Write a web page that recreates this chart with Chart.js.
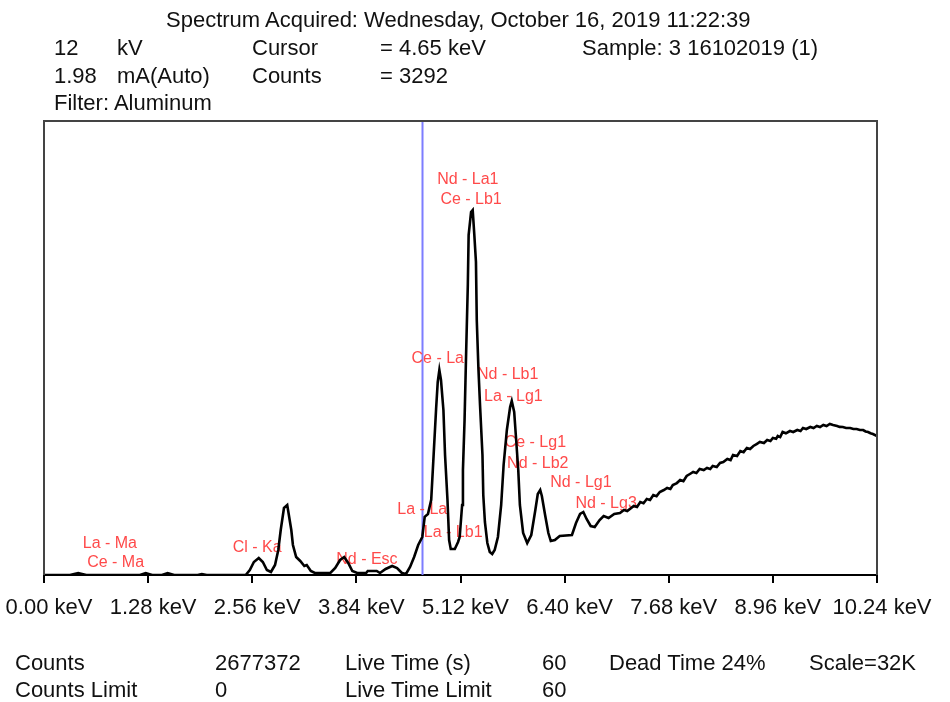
<!DOCTYPE html>
<html>
<head>
<meta charset="utf-8">
<script src="https://cdn.jsdelivr.net/npm/chart.js@4/dist/chart.umd.min.js"></script>
<style>
  html, body { margin: 0; padding: 0; background: #fff; }
  #wrap { position: relative; width: 950px; height: 702px; overflow: hidden; }
  #chart { position: absolute; left: 0; top: 0; }
  .t { position: absolute; font-family: "Liberation Sans", Arial, sans-serif; font-size: 22px; line-height: 24px; color: #111; white-space: pre; }
</style>
</head>
<body>
<div id="wrap">
  <canvas id="chart" width="950" height="702"></canvas>
  <div class="t" style="left:166px; top:8px;">Spectrum Acquired: Wednesday, October 16, 2019 11:22:39</div>
  <div class="t" style="left:54px; top:36px;">12</div>
  <div class="t" style="left:117px; top:36px;">kV</div>
  <div class="t" style="left:252px; top:36px;">Cursor</div>
  <div class="t" style="left:380px; top:36px;">= 4.65 keV</div>
  <div class="t" style="left:582px; top:36px;">Sample: 3 16102019 (1)</div>
  <div class="t" style="left:54px; top:64px;">1.98</div>
  <div class="t" style="left:117px; top:64px;">mA(Auto)</div>
  <div class="t" style="left:252px; top:64px;">Counts</div>
  <div class="t" style="left:380px; top:64px;">= 3292</div>
  <div class="t" style="left:54px; top:91px;">Filter: Aluminum</div>

  <div class="t" style="left:15px; top:651px;">Counts</div>
  <div class="t" style="left:215px; top:651px;">2677372</div>
  <div class="t" style="left:345px; top:651px;">Live Time (s)</div>
  <div class="t" style="left:542px; top:651px;">60</div>
  <div class="t" style="left:609px; top:651px;">Dead Time 24%</div>
  <div class="t" style="left:809px; top:651px;">Scale=32K</div>
  <div class="t" style="left:15px; top:678px;">Counts Limit</div>
  <div class="t" style="left:215px; top:678px;">0</div>
  <div class="t" style="left:345px; top:678px;">Live Time Limit</div>
  <div class="t" style="left:542px; top:678px;">60</div>
</div>
<script>
// ---- data ----
const energyKeV = [
  0.00, 0.32, 0.42, 0.52, 1.18, 1.25, 1.33, 1.45, 1.52, 1.60, 1.89, 1.94, 2.00,
  2.48, 2.53, 2.58, 2.64, 2.69, 2.74, 2.79, 2.84, 2.88, 2.91, 2.95, 2.99, 3.01, 3.04, 3.06, 3.10,
  3.15, 3.20, 3.23, 3.28, 3.33, 3.52, 3.58, 3.64, 3.69, 3.74, 3.79, 3.85, 3.96, 3.98, 4.09, 4.13,
  4.20, 4.28, 4.34, 4.40, 4.45, 4.50, 4.55, 4.60, 4.65, 4.68, 4.72, 4.76, 4.79, 4.82, 4.84, 4.86,
  4.88, 4.91, 4.93, 4.96, 4.98, 5.00, 5.05, 5.09, 5.11, 5.14, 5.15, 5.17, 5.19, 5.21, 5.22, 5.25,
  5.27, 5.29, 5.31, 5.32, 5.34, 5.36, 5.39, 5.40, 5.42, 5.45, 5.48, 5.51, 5.54, 5.58, 5.62, 5.65,
  5.69, 5.73, 5.75, 5.78, 5.80, 5.83, 5.85, 5.89, 5.94, 5.99, 6.04, 6.07, 6.10, 6.12, 6.16, 6.20,
  6.23, 6.28, 6.34, 6.49, 6.54, 6.59, 6.63, 6.67, 6.72, 6.77, 6.83, 6.88, 6.94, 7.01, 7.08, 7.13,
  7.17, 7.25, 7.29, 7.33, 7.37, 7.41, 7.45, 7.49, 7.53, 7.57, 7.62, 7.66, 7.70, 7.73, 7.78, 7.82,
  7.86, 7.90, 7.94, 7.98, 8.02, 8.06, 8.11, 8.15, 8.19, 8.22, 8.27, 8.31, 8.35, 8.40, 8.44, 8.47,
  8.52, 8.56, 8.60, 8.64, 8.68, 8.72, 8.76, 8.80, 8.85, 8.89, 8.93, 8.96, 9.00, 9.02, 9.05, 9.08,
  9.12, 9.17, 9.21, 9.26, 9.30, 9.33, 9.37, 9.42, 9.46, 9.50, 9.54, 9.58, 9.62, 9.66, 9.70, 9.75,
  9.78, 9.82, 9.86, 9.91, 9.95, 9.99, 10.03, 10.07, 10.10, 10.13, 10.16, 10.19, 10.24
];
const countsData = [
  0, 0, 140, 0, 0, 140, 0, 0, 140, 0, 0, 70, 0,
  0, 350, 916, 1200, 916, 350, 211, 705, 1762, 3172, 4722, 4934, 4229, 3172, 2114, 1269,
  987, 634, 705, 282, 141, 141, 493, 1057, 1269, 846, 282, 141, 141, 282, 282, 141,
  423, 634, 493, 141, 70, 564, 1269, 2114, 2678, 4100, 4300, 5300, 8500, 11700, 13600, 14448,
  13744, 11629, 8458, 5286, 2467, 1832, 1832, 2326, 2678, 4934, 7400, 10924, 15858, 20439, 23963, 25584,
  25725, 23963, 22060, 17972, 14589, 11982, 8458, 5638, 3735, 2255, 1621, 1480, 1762, 2678, 4934, 7753,
  10220, 11841, 12264, 11488, 9867, 7400, 4934, 2960, 2255, 2819, 4581, 5709, 5991, 5568, 4229, 2960,
  2396, 2467, 2749, 2819, 3665, 4299, 4440, 3947, 3454, 3383, 3876, 4158, 4020, 4299, 4370, 4580,
  4510, 4863, 4790, 5145, 5060, 5356, 5290, 5638, 5560, 5850, 5990, 6132, 6060, 6343, 6480, 6696,
  6620, 6978, 7120, 7259, 7190, 7471, 7400, 7541, 7470, 7682, 7610, 7894, 7960, 8176, 8100, 8458,
  8390, 8740, 8660, 8951, 8880, 9092, 9230, 9374, 9300, 9515, 9440, 9656, 9600, 9797, 9720, 10079,
  9990, 10149, 10080, 10220, 10150, 10361, 10290, 10431, 10360, 10502, 10430, 10572, 10500, 10643, 10570, 10502,
  10440, 10431, 10360, 10361, 10290, 10290, 10220, 10220, 10120, 10079, 9990, 9938, 9797
];
const tickValues = [0, 1.28, 2.56, 3.84, 5.12, 6.40, 7.68, 8.96, 10.24];
const tickLabels = ["0.00 keV", "1.28 keV", "2.56 keV", "3.84 keV", "5.12 keV", "6.40 keV", "7.68 keV", "8.96 keV", "10.24 keV"];
const peakNames  = ["La - Ma", "Ce - Ma", "Cl - Ka", "Nd - Esc", "La - La", "La - Lb1", "Ce - La", "Nd - La1", "Ce - Lb1", "Nd - Lb1", "La - Lg1", "Ce - Lg1", "Nd - Lb2", "Nd - Lg1", "Nd - Lg3"];
const peakKeV    = [0.81, 0.88, 2.62, 3.97, 4.65, 5.03, 4.84, 5.21, 5.25, 5.70, 5.77, 6.04, 6.07, 6.60, 6.91];
const peakCounts = [2185, 846, 1903, 1057, 4581, 2960, 15224, 27840, 26430, 14096, 12545, 9303, 7823, 6484, 5004];
const cursorKeV = 4.65;
const scaleMax = 32000;

// ---- plugins ----
const decor = {
  id: 'decor',
  beforeDatasetsDraw(chart) {
    const {ctx, chartArea: a, scales: {x, y}} = chart;
    ctx.save();
    const cx = Math.round(x.getPixelForValue(cursorKeV)) + 0.5;
    ctx.strokeStyle = '#7d7dff';
    ctx.lineWidth = 2;
    ctx.beginPath(); ctx.moveTo(cx, a.top); ctx.lineTo(cx, a.bottom); ctx.stroke();
    ctx.fillStyle = '#ff4a4a';
    ctx.font = '16px "Liberation Sans", Arial, sans-serif';
    ctx.textAlign = 'center';
    ctx.textBaseline = 'middle';
    peakNames.forEach((n, i) => {
      ctx.fillText(n, x.getPixelForValue(peakKeV[i]), y.getPixelForValue(peakCounts[i]));
    });
    ctx.restore();
  },
  afterDraw(chart) {
    const {ctx, chartArea: a} = chart;
    ctx.save();
    ctx.strokeStyle = '#444';
    ctx.lineWidth = 2;
    ctx.beginPath();
    ctx.moveTo(a.left, a.bottom); ctx.lineTo(a.left, a.top); ctx.lineTo(a.right, a.top); ctx.lineTo(a.right, a.bottom);
    ctx.stroke();
    ctx.restore();
  }
};

new Chart(document.getElementById('chart'), {
  type: 'line',
  data: {
    datasets: [{
      data: energyKeV.map((e, i) => ({x: e, y: countsData[i]})),
      borderColor: '#000',
      borderWidth: 2.6,
      pointRadius: 0,
      tension: 0,
      fill: false
    }]
  },
  options: {
    responsive: false,
    animation: false,
    layout: { padding: { left: 44, right: 73, top: 121, bottom: 87 } },
    plugins: { legend: { display: false }, tooltip: { enabled: false } },
    scales: {
      x: {
        type: 'linear',
        min: 0, max: 10.24,
        afterBuildTicks(scale) { scale.ticks = tickValues.map(v => ({value: v})); },
        afterFit(scale) { scale.height = 40; scale.paddingLeft = 0; scale.paddingRight = 0; },
        ticks: {
          autoSkip: false, maxRotation: 0, minRotation: 0,
          callback: (v, i) => tickLabels[i],
          color: '#111',
          font: { family: '"Liberation Sans", Arial, sans-serif', size: 22 },
          padding: 12,
          labelOffset: 5
        },
        grid: { drawOnChartArea: false, drawTicks: true, tickLength: 8, color: '#000', lineWidth: 2 },
        border: { display: true, color: '#000', width: 2 }
      },
      y: { display: false, min: 0, max: scaleMax }
    }
  },
  plugins: [decor]
});
</script>
</body>
</html>
